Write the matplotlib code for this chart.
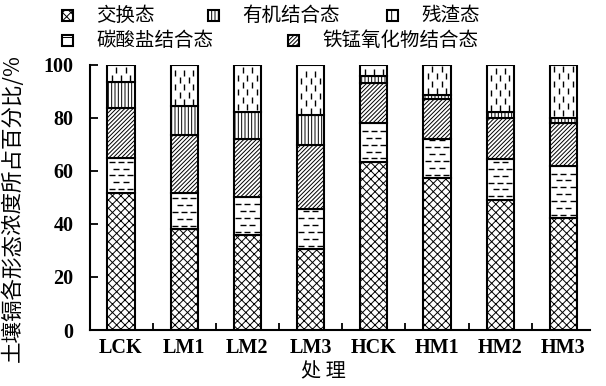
import numpy as np
import matplotlib.pyplot as plt
from matplotlib.patches import Rectangle

plt.rcParams['font.family'] = ['Noto Sans CJK SC', 'DejaVu Sans']
plt.rcParams['hatch.linewidth'] = 0.7

treatments = ['LCK', 'LM1', 'LM2', 'LM3', 'HCK', 'HM1', 'HM2', 'HM3']
# percentage of each Cd fraction (stacked bottom -> top)
exchangeable = [51.8, 38.0, 35.8, 30.4, 63.4, 57.2, 49.1, 42.1]
carbonate = [13.2, 13.8, 14.3, 15.3, 14.5, 14.9, 15.4, 19.8]
fe_mn_oxide = [18.7, 21.7, 22.0, 24.1, 15.4, 14.9, 15.6, 16.1]
organic = [9.8, 10.8, 10.3, 11.3, 2.4, 1.5, 2.0, 2.1]
residual = [6.5, 15.7, 17.6, 18.9, 4.3, 11.5, 17.9, 19.9]

names = ['交换态', '碳酸盐结合态', '铁锰氧化物结合态', '有机结合态', '残渣态']
series = [exchangeable, carbonate, fe_mn_oxide, organic, residual]
hatches = ['xxxx', '', '////////', '|||||', '']
dash_style = [None, '_', None, None, '|']

fig = plt.figure(figsize=(6.06, 3.86), dpi=100)
ax = fig.add_axes([0.1485, 0.145, 0.825, 0.687])

x = np.arange(len(treatments))
width = 0.43
bottom = np.zeros(len(treatments))


def dash_fill(ax, patch, marker, x0, x1, y0, y1):
    # scatter short dashes inside a bar segment, clipped to it
    xs_a = np.linspace(x0 + 0.07, x1 - 0.07, 3)
    xs_b = (xs_a[:-1] + xs_a[1:]) / 2
    if marker == '_':
        ys = np.arange(y0 + 1.3, y1 - 0.5, 2.6)
    else:
        ys = np.arange(y0 + 1.6, y1 - 0.5, 2.8)
    pts = []
    for i, yy in enumerate(ys):
        row = xs_a if i % 2 == 0 else xs_b
        pts += [(xx, yy) for xx in row]
    if not pts:
        return
    pts = np.array(pts)
    sc = ax.scatter(pts[:, 0], pts[:, 1], marker=marker, s=20,
                    color='black', linewidths=1.0, zorder=3)
    sc.set_clip_path(patch)


for vals, h, ds in zip(series, hatches, dash_style):
    vals = np.array(vals)
    bars = ax.bar(x, vals, width, bottom=bottom, color='white',
                  edgecolor='black', hatch=h, linewidth=1.5, zorder=2)
    if ds is not None:
        for b, xx, b0, v in zip(bars, x, bottom, vals):
            dash_fill(ax, b, ds, xx - width / 2, xx + width / 2, b0, b0 + v)
    bottom += vals

ax.set_xlim(-0.49, 7.42)
ax.set_ylim(0, 100)
ax.set_yticks(range(0, 101, 20))
ax.set_xticks(x)
ax.set_xticks(x[:-1] + 0.5, minor=True)
ax.set_xticklabels(treatments)
ax.spines['top'].set_visible(False)
ax.spines['right'].set_visible(False)
ax.spines['left'].set_linewidth(1.5)
ax.spines['bottom'].set_linewidth(1.5)
ax.tick_params(axis='x', which='major', length=0, pad=6)
ax.tick_params(axis='x', which='minor', direction='in', length=5, width=1.3)
ax.tick_params(axis='y', direction='in', length=6, width=1.3, pad=12)
for lab in ax.get_xticklabels() + ax.get_yticklabels():
    lab.set_fontfamily('Liberation Serif')
    lab.set_fontweight('bold')
    lab.set_fontsize(14.5)

fig.text(0.021, 0.46, '土壤镉各形态浓度所占百分比/%', rotation=90,
         ha='center', va='center', fontsize=15.5)
fig.text(0.533, 0.036, '处 理', ha='center', va='center', fontsize=14.5)

# legend laid out in two rows
legend_items = [
    (0, 67, 15), (3, 213, 15), (4, 392, 15),
    (1, 67, 40), (2, 293, 40),
]
legend_hatch = ['xxxx', '--', '////////', '|||||', '|']
W, H = 606.0, 386.0
for idx, px, py in legend_items:
    s = 11
    r = Rectangle(((px - s / 2) / W, 1 - (py + s / 2) / H), s / W, s / H,
                  transform=fig.transFigure, facecolor='white',
                  edgecolor='black', linewidth=1.5, hatch=legend_hatch[idx])
    fig.add_artist(r)
    fig.text((px + 29) / W, 1 - py / H, names[idx], ha='left', va='center',
             fontsize=14)

fig.savefig('out.png', dpi=100)
